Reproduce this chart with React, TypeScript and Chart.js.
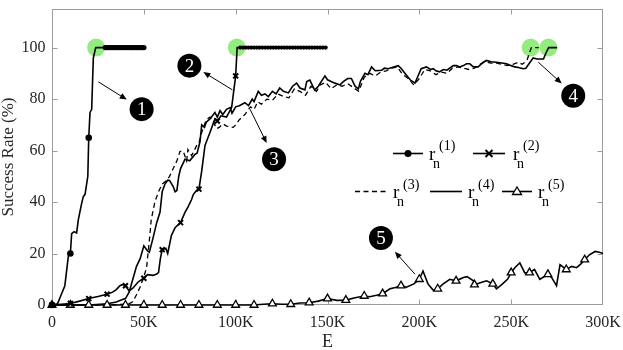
import React, { useEffect, useRef } from 'react';
import { Chart, registerables } from 'chart.js';

Chart.register(...registerables);

// ---------- data (E in thousands, success rate in %) ----------
const r1E = [0, 3, 5, 7, 8.9, 10, 10.7, 12, 13.4, 14.3, 16, 17, 18, 19.5, 20, 20.7, 21.6, 22.5, 23.8,
  29, 30, 31, 32, 33, 34, 35, 36, 37, 38, 39, 40, 41, 42, 43, 44, 45, 46, 47, 48, 49, 50];
const r1V = [0, 0.5, 4, 7.5, 19, 20, 27.7, 28.5, 28, 33, 39, 42, 43, 50, 65, 74.8, 76, 96, 100,
  100, 100, 100, 100, 100, 100, 100, 100, 100, 100, 100, 100, 100, 100, 100, 100, 100, 100, 100, 100, 100, 100];

const r2E = [0, 5, 10, 15, 20, 25, 30, 33, 35, 37, 38.5, 40, 42, 44, 47, 50, 52, 55, 57, 58, 59, 60, 62, 63, 65, 67, 70,
  72.4, 74, 76, 77, 78.8, 80, 81.5, 83.3, 86, 88.7, 90, 92, 95, 97.8, 100, 100.8,
  102.5, 104, 105.5, 107, 108.5, 110, 111.5, 113, 114.5, 116, 117.5, 119, 120.5, 122, 123.5, 125,
  126.5, 128, 129.5, 131, 132.5, 134, 135.5, 137, 138.5, 140, 141.5, 143, 144.5, 146, 147.5, 149];
const r2V = [0, 0.3, 0.6, 1.5, 2.5, 3.3, 4.2, 5, 6, 7.5, 8, 7.5, 5.5, 6.5, 9, 10.4, 11.8, 11.5, 12, 12.6, 18, 21.5, 22, 20, 27, 30, 32,
  36, 38, 41, 43, 44.6, 45, 52, 62, 67, 72.3, 71.5, 73.5, 73, 76.7, 89, 100,
  100, 100, 100, 100, 100, 100, 100, 100, 100, 100, 100, 100, 100, 100, 100, 100,
  100, 100, 100, 100, 100, 100, 100, 100, 100, 100, 100, 100, 100, 100, 100, 100];

const r3E = [0, 20, 30, 40, 43, 44, 46, 48, 50, 51.5, 53.4, 54, 56, 58, 60, 62.4, 64, 66, 68, 69.7,
  71.5, 73.3, 74, 76, 78.8, 80, 81.5, 84, 86, 88, 89.6, 91, 93, 95, 98.7, 100, 102, 105, 108, 110,
  112, 114, 117, 120, 123, 126, 129, 132, 135, 138, 141, 144, 146, 149, 152, 155, 158, 161, 164, 167,
  170, 173, 176, 179, 182, 185, 188, 191, 194, 197, 200, 203, 206, 209, 212, 215, 218, 221, 224, 227,
  230, 233, 236, 239, 242, 245, 248, 251, 254, 256, 258.6, 260, 261, 265];
const r3V = [0, 0, 0, 0.3, 0.8, 1.3, 4, 7, 11, 14.5, 28, 33, 40, 44, 47, 48.4, 50, 53, 56, 59.7,
  59.7, 56, 60.4, 58, 62, 63, 67, 72, 73, 71, 68.5, 69, 70.4, 69.5, 69, 70, 72, 74, 77, 76,
  79, 78, 80, 79.5, 82, 81, 80.5, 84, 83, 81.5, 85, 83, 85.5, 86.5, 84, 85.5, 85, 86, 84.5, 83,
  88.5, 90, 89, 90.5, 91, 92, 92.5, 89.5, 88, 85.5, 88, 91.5, 91, 89.5, 90.5, 90, 92, 92.5, 92, 91.5,
  92, 93.5, 94.5, 94, 94, 93.5, 93, 93.5, 94.3, 93.5, 95, 98, 100, 100];

const r4E = [0, 10, 20, 30, 35, 38, 40, 42, 44, 46, 48, 50, 52, 53, 55, 57, 58.8, 60, 61.5, 63,
  64, 66, 67, 68, 69, 70, 72.4, 75, 77.8, 79, 80.6, 81.5, 83, 84, 86, 88.7, 90, 91.5, 93, 95,
  97, 98, 100, 102, 105, 107, 109, 110, 112.3, 114, 116, 117.8, 120, 122, 124, 126, 128.7, 131, 133.2, 135,
  137.7, 138.7, 140.4, 143, 145, 148.6, 150, 152, 154, 156.8, 158.6, 161, 163, 165, 166.8, 168, 170.4, 172, 174, 176,
  179.5, 181, 183, 186, 188.5, 190, 193, 195, 197.6, 199, 201, 203.9, 206, 207.6, 209, 211, 213, 215, 218.5, 220.3,
  222, 224, 225.7, 227.5, 229.4, 232, 234.8, 236.6, 239, 242, 245, 247.5, 250, 252, 254, 256.6, 258, 260.3, 262, 264,
  267.6, 269, 270.4, 275];
const r4V = [0, 0, 0, 0.5, 1.2, 2, 2.5, 5, 10, 15, 18, 23, 21, 20.5, 26, 32, 36, 44, 47, 48.5,
  48.4, 46, 44, 44.5, 50, 53, 56.6, 56, 58.5, 59, 63.5, 70, 69, 71, 72.3, 74.8, 73, 75.5, 74, 76,
  76.7, 74.5, 77, 77.4, 78.6, 77.5, 80, 79, 83, 81.5, 82, 81, 83, 82, 84.3, 83, 82.4, 85, 86.2, 84.3,
  83.6, 86.8, 87.4, 83.5, 85, 89, 87.5, 86.8, 86.2, 85.5, 86.8, 88, 88, 85, 84, 87, 90, 89.5, 92.5, 91,
  91.2, 92, 91.8, 92.5, 93, 92, 89.3, 87.5, 86.2, 88.5, 91.8, 92.5, 91.5, 91.8, 91, 90.6, 91.5, 91.2, 93, 93,
  92.5, 93, 93.7, 93.7, 92.5, 92.5, 94.3, 95, 94.5, 94.3, 94, 93.7, 93, 92.5, 92.3, 91.8, 92, 94.3, 96, 95.6,
  95.6, 98, 100, 100];

const r5E = [0, 10, 20, 30, 40, 50, 60, 70, 80, 90, 100, 110, 115, 120, 125, 130, 135, 140, 145, 150,
  155, 160, 165, 170, 173, 176.7, 180, 184, 187, 190, 193, 197, 200, 202, 204.7, 207.6, 210, 213, 216.6, 220,
  224, 226, 229.4, 230, 234, 236.6, 240, 242, 245, 248, 250, 252, 254.7, 257.4, 260, 262.7, 265.6, 270, 272, 274.7,
  276.6, 280, 283, 285.6, 288, 290, 292.6, 295.7, 298, 300];
const r5V = [0, 0, 0, 0, 0, 0, 0, 0, 0, 0, 0, 0, 0.3, 0.5, 0.3, 0.3, 0.8, 0.9, 1.5, 2.5,
  1.8, 1.9, 2.8, 3.5, 3.2, 3.8, 4.4, 6.3, 6.8, 7.5, 6.9, 8.2, 10, 13.2, 8.2, 5.7, 6.3, 8.2, 10, 9.4,
  10.7, 11, 9.4, 7.9, 8.8, 9.4, 8.2, 6.3, 8, 10, 12.6, 14.5, 16.4, 12.5, 12.6, 13.8, 10, 11.9, 10.7, 7.5,
  15.7, 13.8, 15, 14.5, 16, 17.6, 19.5, 20.8, 20.5, 20];

// convergence highlights
const hlE = [24, 100.6, 260.6, 270.3];
const hlV = [100, 100, 100, 100];

// x / y tick values
const xTickVals = [0, 50, 100, 150, 200, 250, 300];
const yTickVals = [0, 20, 40, 60, 80, 100];

// numbered call-outs (data units)
const calloutLabels = ['1', '2', '3', '4', '5'];
const calloutE = [48.8, 74.8, 120.9, 283.8, 179.1];
const calloutV = [76.1, 93.0, 56.6, 81.3, 26.0];
const arrowFromE = [25.2, 98.2, 107.8, 264.8, 197.6];
const arrowFromV = [86.7, 83.6, 76.1, 94.3, 12.0];
const arrowToE = [40.7, 82.4, 116.9, 277.5, 186.7];
const arrowToV = [79.8, 90.5, 62.9, 86.1, 20.7];

const legendSup = ['(1)', '(2)', '(3)', '(4)', '(5)'];

const SERIF = '"Liberation Serif", "Times New Roman", serif';

const zip = (xs: number[], ys: number[]) => xs.map((x, i) => ({ x, y: ys[i] }));

function drawArrow(ctx: CanvasRenderingContext2D, x1: number, y1: number, x2: number, y2: number) {
  const ang = Math.atan2(y2 - y1, x2 - x1);
  const L = 7, W = 3;
  ctx.beginPath();
  ctx.moveTo(x1, y1);
  ctx.lineTo(x2 - Math.cos(ang) * L * 0.8, y2 - Math.sin(ang) * L * 0.8);
  ctx.stroke();
  ctx.beginPath();
  ctx.moveTo(x2, y2);
  ctx.lineTo(x2 - Math.cos(ang) * L + Math.sin(ang) * W, y2 - Math.sin(ang) * L - Math.cos(ang) * W);
  ctx.lineTo(x2 - Math.cos(ang) * L - Math.sin(ang) * W, y2 - Math.sin(ang) * L + Math.cos(ang) * W);
  ctx.closePath();
  ctx.fill();
}

function drawMarker(ctx: CanvasRenderingContext2D, kind: string, x: number, y: number) {
  ctx.save();
  ctx.strokeStyle = '#000';
  ctx.fillStyle = '#000';
  if (kind === 'dot') {
    ctx.beginPath(); ctx.arc(x, y, 3.5, 0, Math.PI * 2); ctx.fill();
  } else if (kind === 'x') {
    ctx.lineWidth = 2;
    ctx.beginPath();
    ctx.moveTo(x - 3.5, y - 3.5); ctx.lineTo(x + 3.5, y + 3.5);
    ctx.moveTo(x + 3.5, y - 3.5); ctx.lineTo(x - 3.5, y + 3.5);
    ctx.stroke();
  } else if (kind === 'tri') {
    ctx.lineWidth = 1.3;
    ctx.fillStyle = '#fff';
    ctx.beginPath();
    ctx.moveTo(x, y - 4.5); ctx.lineTo(x + 4.5, y + 3); ctx.lineTo(x - 4.5, y + 3); ctx.closePath();
    ctx.fill(); ctx.stroke();
  }
  ctx.restore();
}

const overlayPlugin = {
  id: 'overlay',
  beforeDatasetsDraw(chart: any) {
    const { ctx, chartArea: a, scales } = chart;
    const xs = scales.x, ys = scales.y;
    ctx.save();
    ctx.strokeStyle = '#9c9c9c';
    ctx.lineWidth = 1;
    const l = Math.round(a.left) + 0.5, r = Math.round(a.right) - 0.5;
    const t = Math.round(a.top) + 0.5, b = Math.round(a.bottom) - 0.5;
    ctx.strokeRect(l, t, r - l, b - t);
    ctx.beginPath();
    xTickVals.slice(1, -1).forEach((v) => {
      const px = Math.round(xs.getPixelForValue(v)) + 0.5;
      ctx.moveTo(px, b); ctx.lineTo(px, b - 5);
      ctx.moveTo(px, t); ctx.lineTo(px, t + 5);
    });
    yTickVals.slice(1).forEach((v) => {
      const py = Math.round(ys.getPixelForValue(v)) + 0.5;
      ctx.moveTo(l, py); ctx.lineTo(l + 5, py);
      ctx.moveTo(r, py); ctx.lineTo(r - 5, py);
    });
    ctx.stroke();
    ctx.restore();
  },
  afterDatasetsDraw(chart: any) {
    const { ctx, scales } = chart;
    const xs = scales.x, ys = scales.y;
    ctx.save();
    // arrows
    ctx.strokeStyle = '#000';
    ctx.fillStyle = '#000';
    ctx.lineWidth = 1;
    arrowFromE.forEach((e, i) => {
      drawArrow(ctx, xs.getPixelForValue(e), ys.getPixelForValue(arrowFromV[i]),
        xs.getPixelForValue(arrowToE[i]), ys.getPixelForValue(arrowToV[i]));
    });
    // bubbles
    calloutLabels.forEach((lab, i) => {
      const cx = xs.getPixelForValue(calloutE[i]);
      const cy = ys.getPixelForValue(calloutV[i]);
      ctx.fillStyle = '#000';
      ctx.beginPath(); ctx.arc(cx, cy, 12, 0, Math.PI * 2); ctx.fill();
      ctx.fillStyle = '#fff';
      ctx.font = `19px ${SERIF}`;
      ctx.textAlign = 'center';
      ctx.textBaseline = 'middle';
      ctx.fillText(lab, cx, cy + 1);
    });

    // legend
    const items = [
      { x1: 393, x2: 423, y: 153.5, kind: 'dot', L: 429, base: 159.5 },
      { x1: 473, x2: 505, y: 153.5, kind: 'x', L: 513, base: 159.5 },
      { x1: 355, x2: 387, y: 191.5, kind: 'dash', L: 393, base: 198 },
      { x1: 430, x2: 462, y: 191.5, kind: 'solid', L: 468, base: 198 },
      { x1: 502, x2: 532, y: 191.5, kind: 'tri', L: 538, base: 198 },
    ];
    items.forEach((it, i) => {
      ctx.save();
      ctx.strokeStyle = '#000';
      ctx.lineWidth = it.kind === 'dash' ? 1.3 : 1.6;
      if (it.kind === 'dash') ctx.setLineDash([5, 3.5]);
      ctx.beginPath(); ctx.moveTo(it.x1, it.y); ctx.lineTo(it.x2, it.y); ctx.stroke();
      ctx.setLineDash([]);
      drawMarker(ctx, it.kind, (it.x1 + it.x2) / 2, it.y);
      ctx.fillStyle = '#000';
      ctx.textAlign = 'left';
      ctx.textBaseline = 'alphabetic';
      ctx.font = `19px ${SERIF}`;
      ctx.fillText('r', it.L, it.base);
      ctx.font = `14px ${SERIF}`;
      ctx.fillText('n', it.L + 4, it.base + 8);
      ctx.fillText(legendSup[i], it.L + 10, it.base - 9.3);
      ctx.restore();
    });
    ctx.restore();
  },
};

export default function App() {
  const ref = useRef<HTMLCanvasElement>(null);
  useEffect(() => {
    document.body.style.margin = '0';
    const canvas = ref.current!;
    const lineBase = {
      showLine: true,
      borderColor: '#000',
      backgroundColor: '#000',
      borderWidth: 1.6,
      tension: 0,
      clip: false as any,
    };
    const chart = new Chart(canvas, {
      type: 'scatter',
      data: {
        datasets: [
          {
            ...lineBase,
            label: 'highlight',
            data: zip(hlE, hlV),
            showLine: false,
            pointRadius: 9,
            pointBackgroundColor: '#94ec80',
            pointBorderWidth: 0,
            order: 10,
          },
          {
            ...lineBase,
            label: 'r3',
            data: zip(r3E, r3V),
            borderWidth: 1.3,
            borderDash: [5, 3.5],
            pointRadius: 0,
            order: 5,
          },
          {
            ...lineBase,
            label: 'r4',
            data: zip(r4E, r4V),
            pointRadius: 0,
            order: 4,
          },
          {
            ...lineBase,
            label: 'r5',
            data: zip(r5E, r5V),
            pointStyle: 'triangle',
            pointRadius: (c: any) => (c.raw && c.raw.x % 10 === 0 && c.raw.x < 300 ? 4.5 : 0),
            pointBackgroundColor: '#fff',
            pointBorderColor: '#000',
            pointBorderWidth: 1.3,
            order: 3,
          },
          {
            ...lineBase,
            label: 'r2',
            data: zip(r2E, r2V),
            pointStyle: (c: any) => (c.raw && c.raw.x > 101 ? 'circle' : 'crossRot'),
            pointRadius: (c: any) => {
              const x = c.raw ? c.raw.x : -1;
              if (x > 101) return 2.1;
              return x % 10 === 0 ? 3.5 : 0;
            },
            pointBorderWidth: (c: any) => (c.raw && c.raw.x > 101 ? 0 : 2),
            pointBackgroundColor: '#000',
            pointBorderColor: '#000',
            order: 2,
          },
          {
            ...lineBase,
            label: 'r1',
            data: zip(r1E, r1V),
            pointStyle: 'circle',
            pointRadius: (c: any) => {
              const x = c.raw ? c.raw.x : -1;
              if (x >= 29) return 2.7;
              return x % 10 === 0 ? 3.3 : 0;
            },
            pointBorderWidth: 0,
            pointBackgroundColor: '#000',
            order: 1,
          },
        ] as any,
      },
      options: {
        responsive: false,
        devicePixelRatio: 1,
        animation: false,
        events: [],
        layout: { padding: { top: 1, right: 20, left: 0, bottom: 0 } },
        plugins: {
          legend: { display: false },
          tooltip: { enabled: false },
        },
        scales: {
          x: {
            type: 'linear',
            min: 0,
            max: 300,
            afterBuildTicks: (s: any) => { s.ticks = xTickVals.map((v) => ({ value: v })); },
            afterFit: (s: any) => { s.height = 45; s.paddingLeft = 0; s.paddingRight = 0; },
            grid: { display: false, drawTicks: false },
            border: { display: false },
            ticks: {
              padding: 8,
              color: '#262626',
              font: { family: SERIF, size: 16 },
              maxRotation: 0,
              callback: (v: any) => (v === 0 ? '0' : `${v}K`),
            },
            title: {
              display: true,
              text: 'E',
              color: '#262626',
              font: { family: SERIF, size: 18, lineHeight: 0.85 },
              padding: { top: 0, bottom: 0 },
            },
          },
          y: {
            type: 'linear',
            min: 0,
            max: 115,
            afterBuildTicks: (s: any) => { s.ticks = yTickVals.map((v) => ({ value: v })); },
            afterFit: (s: any) => { s.width = 52; s.paddingTop = 0; s.paddingBottom = 0; },
            grid: { display: false, drawTicks: false },
            border: { display: false },
            ticks: {
              padding: 6.5,
              color: '#262626',
              font: { family: SERIF, size: 16 },
            },
            title: {
              display: true,
              text: 'Success Rate (%)',
              color: '#262626',
              font: { family: SERIF, size: 17, lineHeight: 1.05 },
              padding: { top: 0, bottom: 0 },
            },
          },
        },
      } as any,
      plugins: [overlayPlugin],
    });
    return () => chart.destroy();
  }, []);
  return (
    <div style={{ width: 623, height: 350, position: 'relative' }}>
      <canvas ref={ref} width={623} height={350} style={{ display: 'block' }} />
    </div>
  );
}
